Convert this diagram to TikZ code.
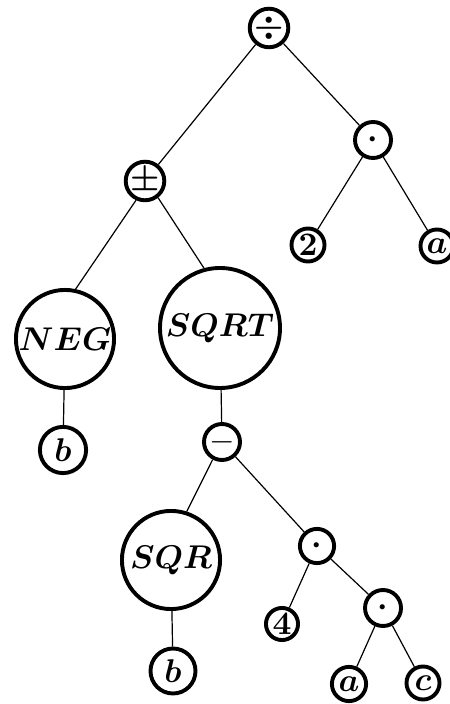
\documentclass[tikz,border=0pt]{standalone}
\begin{document}
\begin{tikzpicture}[x=0.3333pt,y=-0.3333pt,
  nd/.style={circle,draw,line width=1.3pt,inner sep=0pt,font=\fontsize{11}{13}\selectfont\boldmath},
  thinnd/.style={nd,font=\fontsize{11}{13}\selectfont\unboldmath},
  edge/.style={line width=0.4pt}]
\useasboundingbox (0,0) rectangle (450,704);
\node[nd,minimum size=11.4pt] (div) at (269,28) {$\div$};
\node[nd,minimum size=12pt] (m1) at (373,140) {$\cdot$};
\node[nd,minimum size=11.4pt] (pm) at (145,181) {$\pm$};
\node[nd,minimum size=11pt] (two) at (308,245) {$2$};
\node[nd,minimum size=11pt] (a1) at (437,246) {$a$};
\node[nd,minimum size=32.7pt] (neg) at (65,339) {$NEG$};
\node[nd,minimum size=40pt] (sqrt) at (220,328) {$SQRT$};
\node[nd,minimum size=15.4pt] (b1) at (63,450) {$b$};
\node[thinnd,minimum size=12pt] (minus) at (222,442) {$-$};
\node[nd,minimum size=32.7pt] (sqr) at (171,560) {$SQR$};
\node[nd,minimum size=11.4pt] (m2) at (317,546) {$\cdot$};
\node[nd,minimum size=10.7pt] (four) at (282,624) {$4$};
\node[nd,minimum size=12pt] (m3) at (383,608) {$\cdot$};
\node[nd,minimum size=15pt] (b2) at (173,671) {$b$};
\node[nd,minimum size=11.4pt] (a2) at (349,684) {$a$};
\node[nd,minimum size=11pt] (c) at (423,683) {$c$};
\draw[edge] (div) -- (pm);
\draw[edge] (div) -- (m1);
\draw[edge] (m1) -- (two);
\draw[edge] (m1) -- (a1);
\draw[edge] (pm.-115) -- (neg.78);
\draw[edge] (pm.-52) -- (sqrt.105);
\draw[edge] (neg) -- (b1);
\draw[edge] (sqrt) -- (minus);
\draw[edge] (minus.-118) -- (sqr.72);
\draw[edge] (minus) -- (m2);
\draw[edge] (sqr) -- (b2);
\draw[edge] (m2) -- (four);
\draw[edge] (m2) -- (m3);
\draw[edge] (m3) -- (a2);
\draw[edge] (m3) -- (c);
\end{tikzpicture}
\end{document}
